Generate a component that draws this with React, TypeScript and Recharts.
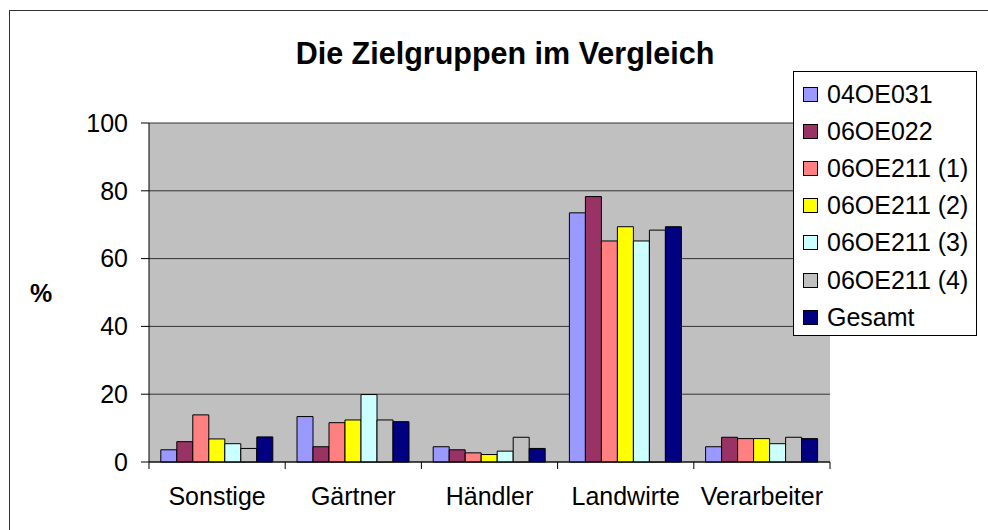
import { BarChart, Bar, XAxis, YAxis, CartesianGrid } from 'recharts';

const categories = ['Sonstige', 'Gärtner', 'Händler', 'Landwirte', 'Verarbeiter'];
const values04OE031 = [3.6, 13.4, 4.5, 73.5, 4.5];
const values06OE022 = [6.0, 4.5, 3.6, 78.3, 7.3];
const values06OE211_1 = [13.9, 11.6, 2.7, 65.2, 6.9];
const values06OE211_2 = [6.8, 12.4, 2.2, 69.4, 6.9];
const values06OE211_3 = [5.4, 19.9, 3.2, 65.2, 5.4];
const values06OE211_4 = [4.0, 12.4, 7.3, 68.4, 7.3];
const valuesGesamt = [7.4, 11.9, 4.0, 69.4, 6.9];
const yTicks = [0, 20, 40, 60, 80, 100];

const series = [
  { key: 's1', name: '04OE031', color: '#9999FF', values: values04OE031 },
  { key: 's2', name: '06OE022', color: '#993366', values: values06OE022 },
  { key: 's3', name: '06OE211 (1)', color: '#FF8080', values: values06OE211_1 },
  { key: 's4', name: '06OE211 (2)', color: '#FFFF00', values: values06OE211_2 },
  { key: 's5', name: '06OE211 (3)', color: '#CCFFFF', values: values06OE211_3 },
  { key: 's6', name: '06OE211 (4)', color: '#C0C0C0', values: values06OE211_4 },
  { key: 's7', name: 'Gesamt', color: '#000080', values: valuesGesamt },
];

const data = categories.map((cat, i) => {
  const row: Record<string, string | number> = { cat };
  series.forEach(s => { row[s.key] = s.values[i]; });
  return row;
});

const FONT = '"Liberation Sans", Arial, sans-serif';

// category ticks: label in the middle, tick marks at the category borders
function CategoryTick(props: any) {
  const { x, y, payload, index } = props;
  const off = payload.offset ?? 68.1;
  const last = index === categories.length - 1;
  return (
    <g>
      <line x1={x - off} x2={x - off} y1={y} y2={y + 7} stroke="#000" />
      {last && <line x1={x + off} x2={x + off} y1={y} y2={y + 7} stroke="#000" />}
      <text x={x} y={y + 43} textAnchor="middle" fontSize={25} fontFamily={FONT} fill="#000">
        {payload.value}
      </text>
    </g>
  );
}

export default function App() {
  return (
    <div style={{ position: 'absolute', left: 0, top: 0, width: 988, height: 530, background: '#fff', fontFamily: FONT, overflow: 'hidden' }}>
      {/* Rahmen */}
      <div style={{ position: 'absolute', left: 9, top: 10, width: 990, height: 530, borderTop: '1px solid #333', borderLeft: '1px solid #333' }} />

      <div style={{ position: 'absolute', left: 0, top: 38, width: 1010, textAlign: 'center', fontSize: 30.5, lineHeight: '30px', fontWeight: 'bold', color: '#000' }}>
        Die Zielgruppen im Vergleich
      </div>

      <div style={{ position: 'absolute', left: 21, width: 40, top: 281, textAlign: 'center', fontSize: 25, lineHeight: '25px', fontWeight: 'bold', color: '#000' }}>
        %
      </div>

      <div style={{ position: 'absolute', left: 0, top: 0 }}>
        <BarChart
          width={988}
          height={530}
          data={data}
          margin={{ top: 123, right: 158, bottom: 0, left: 0 }}
          barCategoryGap={11.8}
          barGap={0}
        >
          <CartesianGrid vertical={false} stroke="#333" fill="#C0C0C0" fillOpacity={1} />
          <XAxis
            dataKey="cat"
            height={68}
            axisLine={{ stroke: '#000' }}
            tickLine={false}
            tickSize={0}
            tickMargin={0}
            interval={0}
            tick={<CategoryTick />}
          />
          <YAxis
            width={149}
            domain={[0, 100]}
            ticks={yTicks}
            interval={0}
            tickSize={8}
            tickMargin={13}
            axisLine={{ stroke: '#000' }}
            tickLine={{ stroke: '#000' }}
            tick={{ fontSize: 25, fill: '#000', fontFamily: FONT }}
          />
          <YAxis
            yAxisId="right"
            orientation="right"
            width={0}
            domain={[0, 100]}
            tick={false}
            tickLine={false}
            axisLine={{ stroke: '#808080' }}
          />
          {series.map(s => (
            <Bar
              key={s.key}
              dataKey={s.key}
              name={s.name}
              fill={s.color}
              stroke="#000"
              strokeWidth={1}
              isAnimationActive={false}
            />
          ))}
        </BarChart>
      </div>

      {/* Legende */}
      <div style={{ position: 'absolute', left: 793, top: 71, width: 182, height: 263, border: '1px solid #000', background: '#fff' }}>
        {series.map((s, i) => (
          <div
            key={s.key}
            style={{ position: 'absolute', left: 9, top: 4 + i * 37.2, height: 36, display: 'flex', alignItems: 'center', whiteSpace: 'nowrap' }}
          >
            <div style={{ width: 13, height: 13, background: s.color, border: '1px solid #000', marginRight: 9 }} />
            <span style={{ fontSize: 25, color: '#000' }}>{s.name}</span>
          </div>
        ))}
      </div>
    </div>
  );
}
